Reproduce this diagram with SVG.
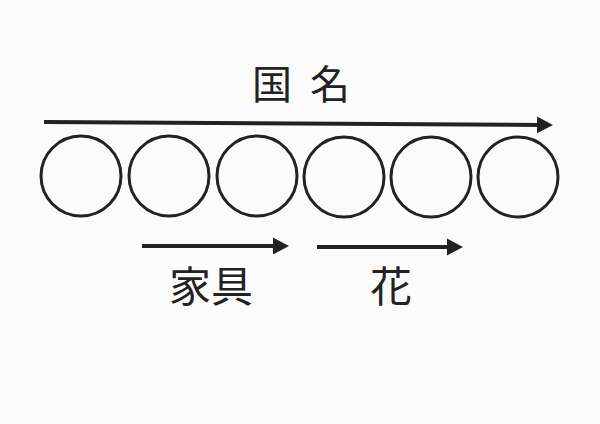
<svg xmlns="http://www.w3.org/2000/svg" width="600" height="424" viewBox="0 0 600 424">
<style>
.c{fill:none;stroke:#222;stroke-width:3}
.a{stroke:#222;stroke-width:4;fill:none}
.t{font-family:"Noto Sans CJK JP","Noto Sans CJK SC",sans-serif;fill:#222}
</style>
<defs>
<marker id="h" markerWidth="5" markerHeight="5" refX="1" refY="2.5" orient="auto" markerUnits="strokeWidth">
<path d="M0,0.4 L4,2.5 L0,4.6 Z" fill="#222"/>
</marker>
</defs>
<rect width="600" height="424" fill="#fbfbfb"/>
<g id="connectors">
<line class="a" x1="44" y1="122" x2="541" y2="125" marker-end="url(#h)"/>
<line class="a" x1="142" y1="246" x2="277" y2="246" marker-end="url(#h)"/>
<line class="a" x1="317" y1="247" x2="451" y2="247" marker-end="url(#h)"/>
</g>
<g id="n1"><circle class="c" cx="81" cy="176" r="40"/></g>
<g id="n2"><circle class="c" cx="169" cy="176" r="40"/></g>
<g id="n3"><circle class="c" cx="257" cy="176" r="40"/></g>
<g id="n4"><circle class="c" cx="344" cy="177" r="40"/></g>
<g id="n5"><circle class="c" cx="431" cy="177" r="40"/></g>
<g id="n6"><circle class="c" cx="518" cy="177" r="40"/></g>
<g id="label-kokumei"><text class="t" x="252" y="99" font-size="40" letter-spacing="18">国名</text></g>
<g id="label-kagu"><text class="t" x="169" y="302" font-size="42">家具</text></g>
<g id="label-hana"><text class="t" x="370" y="302" font-size="42">花</text></g>
</svg>
